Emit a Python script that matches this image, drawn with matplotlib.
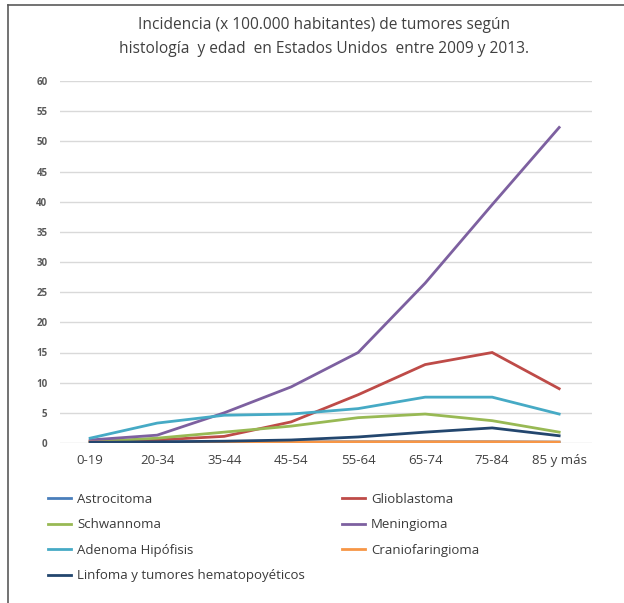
import numpy as np
import matplotlib.pyplot as plt
from matplotlib.lines import Line2D

plt.rcParams['font.family'] = ['Open Sans', 'DejaVu Sans']

ages = ['0-19', '20-34', '35-44', '45-54', '55-64', '65-74', '75-84', '85 y más']

astrocitoma = [0.1, 0.15, 0.15, 0.2, 0.2, 0.2, 0.2, 0.15]
glioblastoma = [0.3, 0.5, 1.1, 3.5, 8.0, 13.0, 15.0, 9.0]
schwannoma = [0.2, 0.8, 1.8, 2.8, 4.2, 4.8, 3.7, 1.8]
meningioma = [0.5, 1.3, 5.0, 9.3, 15.0, 26.5, 39.5, 52.3]
adenoma = [0.8, 3.3, 4.6, 4.8, 5.7, 7.6, 7.6, 4.8]
craneo = [0.15, 0.1, 0.1, 0.15, 0.2, 0.2, 0.2, 0.15]
linfoma = [0.1, 0.2, 0.3, 0.5, 1.0, 1.8, 2.5, 1.2]

series = [
    ('Astrocitoma', astrocitoma, '#4a7ebb'),
    ('Glioblastoma', glioblastoma, '#be4b48'),
    ('Schwannoma', schwannoma, '#98b954'),
    ('Meningioma', meningioma, '#7d60a0'),
    ('Adenoma Hipófisis', adenoma, '#46aac5'),
    ('Craniofaringioma', craneo, '#f79646'),
    ('Linfoma y tumores hematopoyéticos', linfoma, '#23466e'),
]

W, H = 624, 603
fig = plt.figure(figsize=(W / 100, H / 100), dpi=100)
ax = fig.add_axes([60 / W, 1 - 443 / H, (592 - 60) / W, (443 - 81) / H])

x = np.arange(len(ages))
handles = {}
for name, vals, col in series:
    ln, = ax.plot(x, vals, color=col, lw=2, solid_joinstyle='miter', label=name)
    handles[name] = ln

ax.set_xlim(-0.45, 7.49)
ax.set_ylim(0, 60)
ax.set_yticks(range(0, 61, 5))
ax.set_xticks(x)
ax.set_xticklabels(ages, fontsize=9.5, color='#404040')
ax.tick_params(axis='y', labelsize=7, colors='#595959', length=0, pad=9)
ax.tick_params(axis='x', length=0, pad=8)
for lab in ax.get_yticklabels():
    lab.set_fontweight('bold')
ax.grid(axis='y', color='#d9d9d9', lw=1)
ax.set_axisbelow(True)
for s in ax.spines.values():
    s.set_visible(False)

fig.text(324 / W, 1 - 37 / H,
         'Incidencia (x 100.000 habitantes) de tumores según\nhistología  y edad  en Estados Unidos  entre 2009 y 2013.',
         ha='center', va='center', fontsize=11.2, color='#404040', linespacing=1.6)

order = ['Astrocitoma', 'Schwannoma', 'Adenoma Hipófisis', 'Linfoma y tumores hematopoyéticos',
         'Glioblastoma', 'Meningioma', 'Craniofaringioma']
leg = fig.legend([handles[n] for n in order], order, ncol=2, loc='upper left',
                 bbox_to_anchor=(36 / W, 1 - 481 / H), frameon=False, fontsize=9.5,
                 handlelength=1.75, handletextpad=0.45, columnspacing=2.8, labelspacing=0.95,
                 labelcolor='#3a3a3a')

fig.add_artist(Line2D([8 / W, 1], [1 - 5 / H, 1 - 5 / H], color='#5a5a5a', lw=1.2))
fig.add_artist(Line2D([8 / W, 8 / W], [0, 1 - 5 / H], color='#5a5a5a', lw=1.2))

fig.savefig('out.png', dpi=100, facecolor='white')
